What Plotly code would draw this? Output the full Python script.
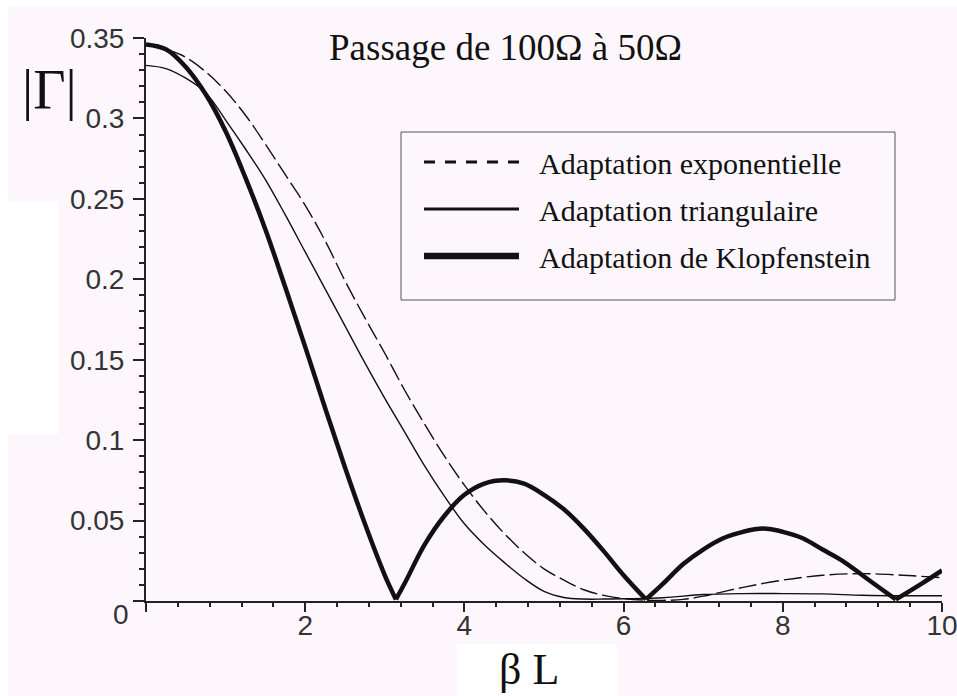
import plotly.graph_objects as go

# ---------------- data ----------------
x_dash = [0.0, 0.25, 0.5, 0.75, 1.0, 1.25, 1.5, 1.75, 2.0, 2.25, 2.5, 2.75, 3.0, 3.25, 3.5,
          3.75, 4.0, 4.25, 4.5, 4.75, 5.0, 5.25, 5.5, 5.75, 6.0, 6.25, 6.5, 6.75, 7.0, 7.5,
          8.0, 8.5, 9.0, 9.5, 10.0]
y_dash = [0.346, 0.343, 0.338, 0.329, 0.317, 0.302, 0.284, 0.265, 0.246, 0.224, 0.199, 0.176,
          0.154, 0.131, 0.110, 0.090, 0.072, 0.056, 0.042, 0.030, 0.020, 0.013, 0.007, 0.0035,
          0.0015, 0.0006, 0.0004, 0.001, 0.003, 0.0085, 0.013, 0.016, 0.0170, 0.016, 0.0145]

x_tri = [0.0, 0.25, 0.5, 0.75, 1.0, 1.25, 1.5, 1.75, 2.0, 2.25, 2.5, 2.75, 3.0, 3.25, 3.5,
         3.75, 4.0, 4.25, 4.5, 4.75, 5.0, 5.25, 5.5, 5.75, 6.0, 6.5, 7.0, 7.5, 8.0, 8.5,
         9.0, 9.5, 10.0]
y_tri = [0.333, 0.331, 0.325, 0.316, 0.299, 0.281, 0.262, 0.240, 0.217, 0.194, 0.171, 0.148,
         0.126, 0.105, 0.084, 0.065, 0.048, 0.035, 0.024, 0.014, 0.0060, 0.0022, 0.0012,
         0.0012, 0.0014, 0.0020, 0.0040, 0.0046, 0.0046, 0.0044, 0.0036, 0.0033, 0.0033]

x_klop = [0.0, 0.25, 0.5, 0.75, 1.0, 1.25, 1.5, 1.75, 2.0, 2.25, 2.5, 2.75, 3.0, 3.14, 3.25,
          3.5, 3.75, 4.0, 4.25, 4.5, 4.75, 5.0, 5.25, 5.5, 5.75, 6.0, 6.28, 6.5, 6.75, 7.0,
          7.25, 7.5, 7.75, 8.0, 8.25, 8.5, 8.75, 9.0, 9.25, 9.42, 9.75, 10.0]
y_klop = [0.346, 0.343, 0.332, 0.315, 0.292, 0.263, 0.231, 0.195, 0.158, 0.120, 0.083, 0.048,
          0.016, 0.001, 0.011, 0.035, 0.053, 0.066, 0.073, 0.075, 0.073, 0.066, 0.057, 0.045,
          0.031, 0.016, 0.001, 0.011, 0.023, 0.032, 0.039, 0.043, 0.045, 0.043, 0.039, 0.032,
          0.025, 0.016, 0.007, 0.001, 0.011, 0.019]
klop_zeros = [3.14, 6.28, 9.42]   # sharp minima of the thick curve

legend_names = ["Adaptation exponentielle", "Adaptation triangulaire",
                "Adaptation de Klopfenstein"]

x_tickvals = [0, 2, 4, 6, 8, 10]
x_ticktext = ["", "2", "4", "6", "8", "10"]
y_tickvals = [0, 0.05, 0.1, 0.15, 0.2, 0.25, 0.3, 0.35]
y_ticktext = ["", "0.05", "0.1", "0.15", "0.2", "0.25", "0.3", "0.35"]

PINK = "rgb(253,247,253)"
INK = "#111111"

fig = go.Figure()

fig.add_trace(go.Scatter(x=x_dash, y=y_dash, mode="lines", showlegend=False,
                         line=dict(color=INK, width=1.4, dash="18px,5px", shape="spline",
                                   smoothing=1)))
fig.add_trace(go.Scatter(x=x_tri, y=y_tri, mode="lines", showlegend=False,
                         line=dict(color=INK, width=1.4, shape="spline", smoothing=1)))

# thick curve: one smooth piece per lobe, so the minima stay sharp
cuts = [0] + [x_klop.index(z) for z in klop_zeros] + [len(x_klop) - 1]
for a, b in zip(cuts[:-1], cuts[1:]):
    fig.add_trace(go.Scatter(x=x_klop[a:b + 1], y=y_klop[a:b + 1], mode="lines",
                             showlegend=False,
                             line=dict(color=INK, width=4.5, shape="spline", smoothing=1)))

# legend-only entries (thicker samples as in the reference legend)
leg_styles = [dict(color=INK, width=3, dash="11px,10px"),
              dict(color=INK, width=3),
              dict(color=INK, width=6.5)]
for i, (nm, st) in enumerate(zip(legend_names, leg_styles)):
    fig.add_trace(go.Scatter(x=[None], y=[None], mode="lines", name="\u00a0\u00a0" + nm,
                             line=st, legendgroup="g%d" % i, showlegend=True))

L, R, T, B = 146, 15, 38, 95
W, H = 957, 696
pw, ph = W - L - R, H - T - B


def px(xpix):
    return (xpix - L) / pw


def py(ypix):
    return (H - B - ypix) / ph


shapes = []
for (x0, x1, y0, y1) in [(0, 8, 0, 696), (0, 957, 0, 7), (0, 58, 202, 435), (457, 617, 644, 696)]:
    shapes.append(dict(type="rect", xref="paper", yref="paper", layer="below",
                       x0=px(x0), x1=px(x1), y0=py(y1), y1=py(y0),
                       fillcolor="white", line=dict(width=0)))
# legend frame
shapes.append(dict(type="rect", xref="paper", yref="paper", layer="below",
                   x0=px(401), x1=px(895), y0=py(300), y1=py(132),
                   fillcolor=PINK, line=dict(color="#555555", width=1)))

annotations = [
    dict(text="Passage de 100Ω à 50Ω", xref="paper", yref="paper", x=px(327), y=py(48),
         xanchor="left", yanchor="middle", showarrow=False,
         font=dict(family="Liberation Serif", size=37, color=INK)),
    dict(text="|Γ|", xref="paper", yref="paper", x=px(49), y=py(90),
         xanchor="center", yanchor="middle", showarrow=False,
         font=dict(family="Liberation Serif", size=56, color=INK)),
    dict(text="β L", xref="paper", yref="paper", x=px(529), y=py(669),
         xanchor="center", yanchor="middle", showarrow=False,
         font=dict(family="Liberation Serif", size=44, color=INK)),
    dict(text="0", xref="paper", yref="paper", x=px(121), y=py(614),
         xanchor="center", yanchor="middle", showarrow=False,
         font=dict(family="Liberation Sans", size=28, color="#333333")),
]

axis_common = dict(showline=True, linecolor="#222222", linewidth=2, ticks="outside",
                   tickcolor="#222222", tickwidth=2, showgrid=False, zeroline=False,
                   ticklabeloverflow="allow", automargin=False,
                   tickfont=dict(family="Liberation Sans", size=28, color="#333333"))

fig.update_layout(
    width=W, height=H,
    margin=dict(l=L, r=R, t=T, b=B, autoexpand=False),
    paper_bgcolor=PINK, plot_bgcolor=PINK,
    shapes=shapes, annotations=annotations,
    legend=dict(x=px(419), y=py(136), xanchor="left", yanchor="top",
                bgcolor="rgba(0,0,0,0)", borderwidth=0,
                font=dict(family="Liberation Serif", size=30, color=INK),
                itemwidth=95, tracegroupgap=5, traceorder="grouped"),
    xaxis=dict(range=[0, 10], tickmode="array", tickvals=x_tickvals, ticktext=x_ticktext,
               ticklen=9, ticklabelstandoff=-11,
               minor=dict(ticks="outside", tick0=0, dtick=0.4, ticklen=4,
                          tickwidth=2, tickcolor="#222222"),
               **axis_common),
    yaxis=dict(range=[0, 0.35], tickmode="array", tickvals=y_tickvals, ticktext=y_ticktext,
               ticklen=11, ticklabelstandoff=3,
               minor=dict(ticks="outside", tick0=0, dtick=0.01, ticklen=5,
                          tickwidth=2, tickcolor="#222222"),
               **axis_common),
)

fig.write_html("out.html")
